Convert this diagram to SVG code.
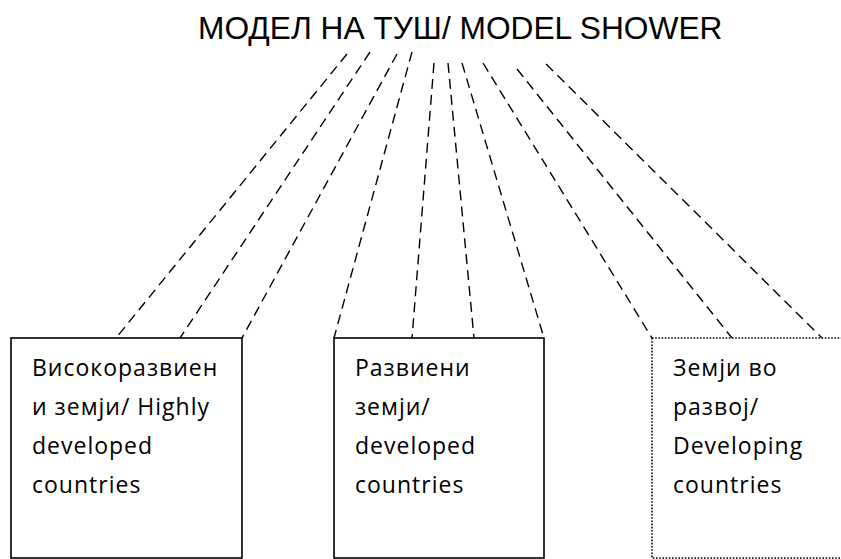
<svg xmlns="http://www.w3.org/2000/svg" width="841" height="559" viewBox="0 0 841 559">
<style>
.title{font-family:"Liberation Sans",Arial,sans-serif;font-size:31.7px;fill:#000}
.lbl{font-family:"Open Sans","Noto Sans",sans-serif;font-size:23px;letter-spacing:1px;fill:#000}
.box{fill:#fff;stroke:#000;stroke-width:1.6}
.dot{fill:#fff;stroke:#000;stroke-width:1.6;stroke-dasharray:1.6 1.6}
.dash{stroke:#000;stroke-width:1.4;fill:none;stroke-dasharray:10 6}
</style>
<rect width="841" height="559" fill="#fff"/>
<g id="title"><text class="title" x="198" y="39">МОДЕЛ НА ТУШ/ MODEL SHOWER</text></g>
<g id="connectors">
<line class="dash" x1="347" y1="54" x2="116" y2="338"/>
<line class="dash" x1="370" y1="52" x2="180" y2="338"/>
<line class="dash" x1="397" y1="54" x2="242" y2="338"/>
<line class="dash" x1="412" y1="52" x2="334" y2="338"/>
<line class="dash" x1="434" y1="63" x2="412" y2="338"/>
<line class="dash" x1="448" y1="63" x2="474" y2="338"/>
<line class="dash" x1="462" y1="63" x2="544" y2="338"/>
<line class="dash" x1="483" y1="63" x2="652" y2="338"/>
<line class="dash" x1="517" y1="69" x2="732" y2="338"/>
<line class="dash" x1="546" y1="64" x2="822" y2="338"/>
</g>
<g id="highly">
<rect class="box" x="11" y="338" width="231" height="220"/>
<text class="lbl" x="32" y="376">Високоразвиен</text>
<text class="lbl" x="32" y="415">и земји/ Highly</text>
<text class="lbl" x="32" y="454">developed</text>
<text class="lbl" x="32" y="493">countries</text>
</g>
<g id="developed">
<rect class="box" x="334" y="338" width="210" height="220"/>
<text class="lbl" x="355" y="376">Развиени</text>
<text class="lbl" x="355" y="415">земји/</text>
<text class="lbl" x="355" y="454">developed</text>
<text class="lbl" x="355" y="493">countries</text>
</g>
<g id="developing">
<rect class="dot" x="652" y="338" width="200" height="220"/>
<text class="lbl" x="673" y="376">Земји во</text>
<text class="lbl" x="673" y="415">развој/</text>
<text class="lbl" x="673" y="454">Developing</text>
<text class="lbl" x="673" y="493">countries</text>
</g>
</svg>
